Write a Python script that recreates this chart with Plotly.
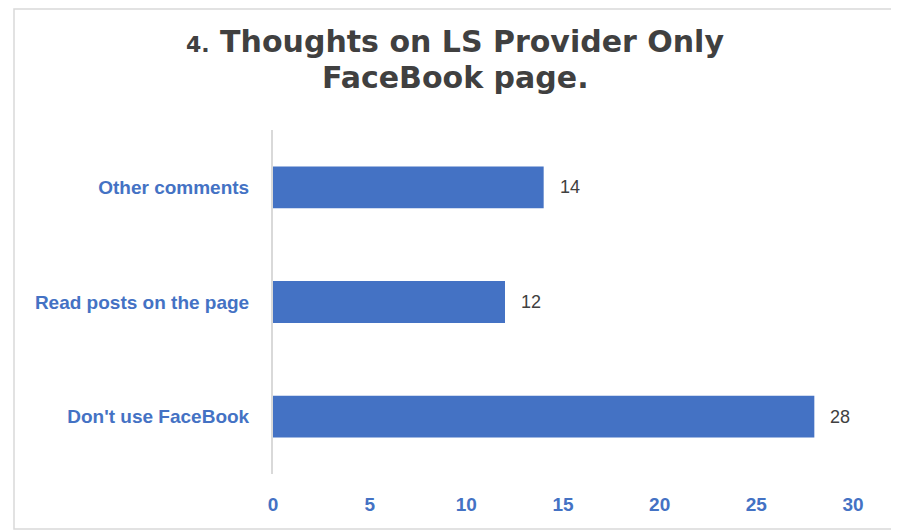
import plotly.graph_objects as go

categories = ["Don't use FaceBook", "Read posts on the page", "Other comments"]
values = [28, 12, 14]
x_ticks = [0, 5, 10, 15, 20, 25, 30]
title_line1 = "Thoughts on LS Provider Only"
title_line2 = "FaceBook page."

BLUE = "#4472C4"
GRAY_TXT = "#404040"

# page body has an 8px margin; figure is sized/offset to compensate
OFF = 8
W, H = 899 - OFF, 532 - OFF
L, R, T, B = 273 - OFF, 853 - OFF, 130 - OFF, 474 - OFF
PW, PH = R - L, B - T

fig = go.Figure()
fig.add_trace(go.Bar(
    y=categories, x=values, orientation="h",
    marker=dict(color=BLUE, line=dict(width=0)),
    width=0.365,
    hoverinfo="skip",
))

for c, v in zip(categories, values):
    fig.add_annotation(x=v, y=c, xref="x", yref="y", text=str(v),
                       showarrow=False, xanchor="left", xshift=14,
                       font=dict(family="Liberation Sans, Arial", size=18, color=GRAY_TXT))

title_font = dict(family="DejaVu Sans", size=30, color=GRAY_TXT, weight="bold")
fig.add_annotation(xref="paper", yref="paper",
                   x=(455 - OFF - L) / PW, y=(B - (41 - OFF)) / PH,
                   xanchor="center", yanchor="middle", showarrow=False,
                   text="<span style='font-size:22px'>4.</span> " + title_line1,
                   font=title_font)
fig.add_annotation(xref="paper", yref="paper",
                   x=(455 - OFF - L) / PW, y=(B - (78 - OFF)) / PH,
                   xanchor="center", yanchor="middle", showarrow=False,
                   text=title_line2, font=title_font)

fig.update_layout(
    width=W, height=H,
    margin=dict(l=L, r=W - R, t=T, b=H - B),
    paper_bgcolor="white", plot_bgcolor="white",
    showlegend=False,
    xaxis=dict(
        range=[0, 30], tickvals=x_ticks, ticktext=[str(t) for t in x_ticks],
        showgrid=False, zeroline=False, showline=False, ticks="",
        ticklabelstandoff=17,
        tickfont=dict(family="Liberation Sans, Arial", size=19, color=BLUE, weight="bold"),
    ),
    yaxis=dict(
        categoryorder="array", categoryarray=categories,
        range=[-0.5, 2.5],
        showgrid=False, zeroline=False, showline=True, linecolor="#d9d9d9", linewidth=2,
        ticks="", ticklabelstandoff=18,
        tickfont=dict(family="Liberation Sans, Arial", size=19, color=BLUE, weight="bold"),
    ),
)

fig.add_shape(type="rect", xref="paper", yref="paper",
              x0=(14 - OFF - L) / PW, x1=(893 - OFF - L) / PW,
              y0=(B - (529 - OFF)) / PH, y1=(B - (9 - OFF)) / PH,
              line=dict(color="#d9d9d9", width=1.5), fillcolor="rgba(0,0,0,0)", layer="below")

fig.write_html("out.html")
